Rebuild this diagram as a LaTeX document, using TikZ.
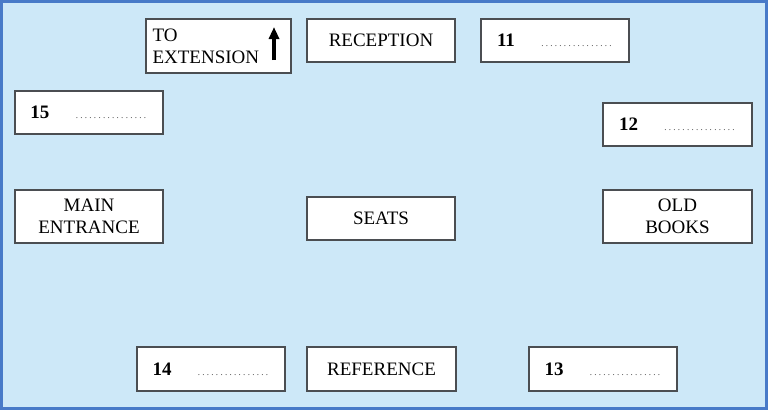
\documentclass[tikz,border=0pt]{standalone}
\usepackage{fontspec}
\setmainfont{Liberation Serif}
\usepackage{xcolor}
\usepackage{tikz}
\usetikzlibrary{arrows.meta, positioning}

\definecolor{mapbg}{RGB}{205,232,248}
\definecolor{mapedge}{RGB}{72,122,200}
\definecolor{boxedge}{RGB}{75,78,82}
\definecolor{dotgray}{RGB}{60,60,60}

\newcommand{\dotline}{\makebox[73pt]{\color{dotgray}\xleaders\hbox to 4.3pt{\hss\fontsize{9}{9}\selectfont.\hss}\hfill}}

\begin{document}
\begin{tikzpicture}[
  x=1pt, y=-1pt,
  >=Latex,
  font=\fontsize{19}{22}\selectfont,
  room/.style={
    rectangle, draw=boxedge, fill=white,
    line width=1.2pt, align=center,
    inner sep=0pt,
    minimum width=148pt,
    minimum height=43pt
  },
  tall/.style={room, minimum height=53pt},
  blank/.style={room, minimum height=44pt},
]

% --- Plan ---
\useasboundingbox (0,0) rectangle (768,410);
\draw[fill=mapbg, draw=mapedge, line width=3pt] (1.5,1.5) rectangle (766.5,408.5);

% --- Top row ---
\node[room, minimum width=145pt, minimum height=54pt, text width=132pt, align=left] (EXT) at (218.5,46) {TO\\EXTENSION};
\node[room] (REC) at (381,40.5) {RECEPTION};
\node[room] (Q11) at (555,40.5) {\textbf{11}\hspace{25pt}\dotline};

% --- Side blanks ---
\node[room] (Q15) at (89,112.5) {\textbf{15}\hspace{25pt}\dotline};
\node[room, minimum width=149pt] (Q12) at (677.5,124.5) {\textbf{12}\hspace{25pt}\dotline};

% --- Middle row ---
\node[tall] (MAIN) at (89,216.5) {MAIN\\ENTRANCE};
\node[room] (SEATS) at (381,218.5) {SEATS};
\node[tall, minimum width=149pt] (OLD) at (677.5,216.5) {OLD\\BOOKS};

% --- Bottom row ---
\node[blank] (Q14) at (211,369) {\textbf{14}\hspace{25pt}\dotline};
\node[blank, minimum width=149pt] (REF) at (381.5,369) {REFERENCE};
\node[blank] (Q13) at (603,369) {\textbf{13}\hspace{25pt}\dotline};

% --- Arrow ---
\coordinate (UPlow) at (274,60);
\coordinate (UPtop) at (274,27);
\draw[-{Triangle[length=12pt, width=10pt]}, line width=3.5pt] (UPlow) -- (UPtop);

\end{tikzpicture}
\end{document}
